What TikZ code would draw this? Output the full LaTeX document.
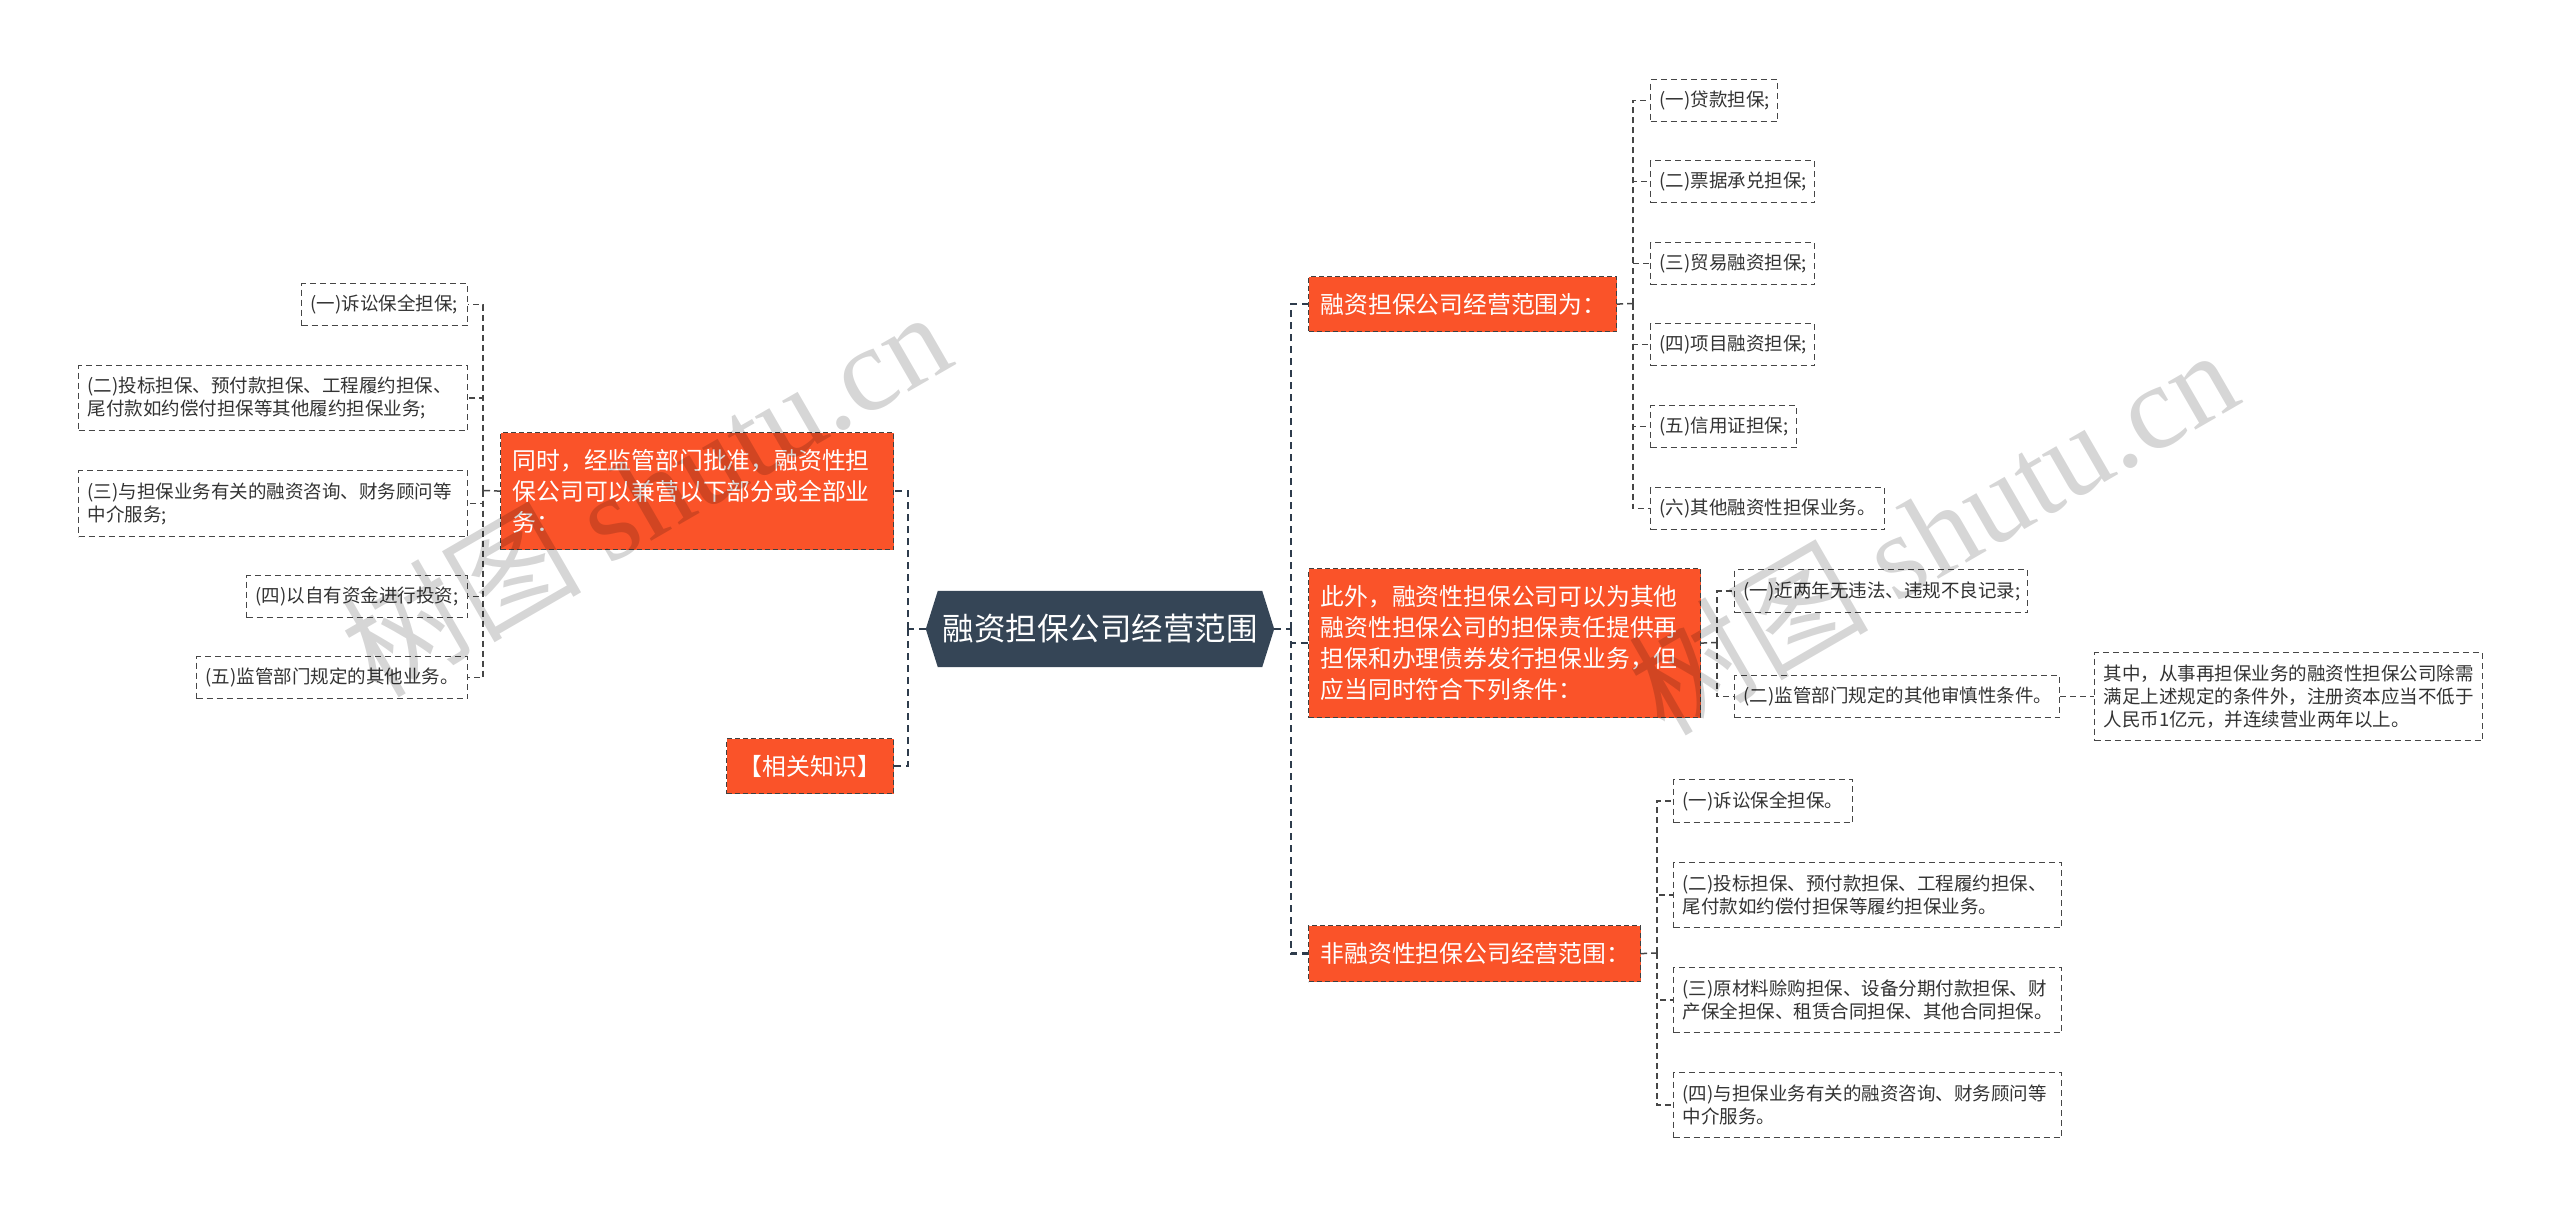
\documentclass[tikz,border=0pt]{standalone}
\usepackage{fontspec}
\setmainfont{Noto Sans CJK SC}
\newfontfamily\wmlatin{Liberation Serif}
\definecolor{orng}{RGB}{250,83,41}
\definecolor{rootc}{RGB}{53,69,86}
\definecolor{linec}{RGB}{46,60,76}
\definecolor{boxline}{RGB}{70,70,70}
\definecolor{txt}{RGB}{51,51,51}
\pgfdeclarelayer{bg}
\pgfsetlayers{bg,main}
\begin{document}
\begin{tikzpicture}[x=1pt,y=-1pt,
  leaf/.style={draw=boxline, line width=1.4pt, dash pattern=on 6pt off 4pt, fill=white, anchor=north west, inner xsep=9pt, inner ysep=2pt, align=left, text=txt, font=\fontsize{18.5}{23}\selectfont},
  branch/.style={draw=black!75, line width=1.2pt, dash pattern=on 5pt off 3pt, fill=orng, anchor=north west, inner xsep=12pt, inner ysep=2pt, align=left, text=white, font=\fontsize{23.8}{31}\selectfont},
  mainline/.style={draw=linec, line width=2.6pt, dash pattern=on 7pt off 5pt},
  subline/.style={draw=boxline, line width=1.5pt, dash pattern=on 6pt off 4pt},
  wmark/.style={rotate=30, text=black, text opacity=0.16, font=\fontsize{120}{140}\selectfont, inner sep=0pt},
]
\useasboundingbox (0,0) rectangle (2560,1217);

% root
\node[minimum width=348pt, minimum height=76pt, inner sep=0pt, text=white, font=\fontsize{31.5}{38}\selectfont] (root) at (1100,629) {融资担保公司经营范围};
\begin{pgfonlayer}{bg}
\fill[white] (0,0) rectangle (2560,1217);
\fill[rootc] ([xshift=12pt]root.north west) -- ([xshift=-12pt]root.north east) -- (root.east) -- ([xshift=-12pt]root.south east) -- ([xshift=12pt]root.south west) -- (root.west) -- cycle;
\end{pgfonlayer}

% left side
\node[branch, text width=369pt, minimum height=117pt] (Lnode) at (500,432) {同时，经监管部门批准，融资性担\\保公司可以兼营以下部分或全部业\\务：};
\node[branch, text width=143pt, minimum height=55pt] (Lrel) at (726,738) {【相关知识】};
\node[leaf, text width=148pt, minimum height=42pt] (L1) at (301,283) {(一)诉讼保全担保;};
\node[leaf, text width=371pt, minimum height=65pt] (L2) at (78,365) {(二)投标担保、预付款担保、工程履约担保、\\尾付款如约偿付担保等其他履约担保业务;};
\node[leaf, text width=371pt, minimum height=66pt] (L3) at (78,470) {(三)与担保业务有关的融资咨询、财务顾问等\\中介服务;};
\node[leaf, text width=203pt, minimum height=42pt] (L4) at (246,575) {(四)以自有资金进行投资;};
\node[leaf, text width=253pt, minimum height=42pt] (L5) at (196,656) {(五)监管部门规定的其他业务。};

% right branch 1
\node[branch, text width=284pt, minimum height=55pt] (R1) at (1308,276) {融资担保公司经营范围为：};
\node[leaf, text width=109pt, minimum height=42pt] (R1a) at (1650,79) {(一)贷款担保;};
\node[leaf, text width=146pt, minimum height=42pt] (R1b) at (1650,160) {(二)票据承兑担保;};
\node[leaf, text width=146pt, minimum height=42pt] (R1c) at (1650,242) {(三)贸易融资担保;};
\node[leaf, text width=146pt, minimum height=42pt] (R1d) at (1650,323) {(四)项目融资担保;};
\node[leaf, text width=128pt, minimum height=42pt] (R1e) at (1650,405) {(五)信用证担保;};
\node[leaf, text width=216pt, minimum height=42pt] (R1f) at (1650,487) {(六)其他融资性担保业务。};

% right branch 2
\node[branch, text width=368pt, minimum height=149pt] (R2) at (1308,568) {此外，融资性担保公司可以为其他\\融资性担保公司的担保责任提供再\\担保和办理债券发行担保业务，但\\应当同时符合下列条件：};
\node[leaf, text width=275pt, minimum height=43pt] (R2a) at (1734,569) {(一)近两年无违法、违规不良记录;};
\node[leaf, text width=307pt, minimum height=42pt] (R2b) at (1734,675) {(二)监管部门规定的其他审慎性条件。};
\node[leaf, text width=370pt, minimum height=88pt] (R2c) at (2094,652) {其中，从事再担保业务的融资性担保公司除需\\满足上述规定的条件外，注册资本应当不低于\\人民币1亿元，并连续营业两年以上。};

% right branch 3
\node[branch, text width=308pt, minimum height=56pt] (R3) at (1308,925) {非融资性担保公司经营范围：};
\node[leaf, text width=161pt, minimum height=43pt] (R3a) at (1673,779) {(一)诉讼保全担保。};
\node[leaf, text width=370pt, minimum height=65pt] (R3b) at (1673,862) {(二)投标担保、预付款担保、工程履约担保、\\尾付款如约偿付担保等履约担保业务。};
\node[leaf, text width=370pt, minimum height=65pt] (R3c) at (1673,967) {(三)原材料赊购担保、设备分期付款担保、财\\产保全担保、租赁合同担保、其他合同担保。};
\node[leaf, text width=370pt, minimum height=65pt] (R3d) at (1673,1072) {(四)与担保业务有关的融资咨询、财务顾问等\\中介服务。};

% connector junctions
\coordinate (lv) at (908,629);
\coordinate (rv) at (1291,629);
\coordinate (lnv) at (483,490.5);
\coordinate (r1v) at (1633,303.5);
\coordinate (r2v) at (1717,642.5);
\coordinate (r3v) at (1657,953);

% main connectors
\draw[mainline] (root.west) -- (lv);
\draw[mainline] (lv) |- (Lnode.east);
\draw[mainline] (lv) |- (Lrel.east);
\draw[mainline] (root.east) -- (rv);
\draw[mainline] (rv) |- (R1.west);
\draw[mainline] (rv) |- (R2.west);
\draw[mainline] (rv) |- (R3.west);

% sub connectors
\draw[subline] (Lnode.west) -- (lnv);
\foreach \n in {L1,L2,L3,L4,L5} \draw[subline] (lnv) |- (\n.east);
\draw[subline] (R1.east) -- (r1v);
\foreach \n in {R1a,R1b,R1c,R1d,R1e,R1f} \draw[subline] (r1v) |- (\n.west);
\draw[subline] (R2.east) -- (r2v);
\foreach \n in {R2a,R2b} \draw[subline] (r2v) |- (\n.west);
\draw[subline] (R2b.east) -- (R2c.west);
\draw[subline] (R3.east) -- (r3v);
\foreach \n in {R3a,R3b,R3c,R3d} \draw[subline] (r3v) |- (\n.west);

% watermarks
\node[wmark] (wm1) at (645,492) {树图 {\wmlatin shutu.cn}};
\node[wmark] (wm2) at (1932,530) {树图 {\wmlatin shutu.cn}};
\end{tikzpicture}
\end{document}
